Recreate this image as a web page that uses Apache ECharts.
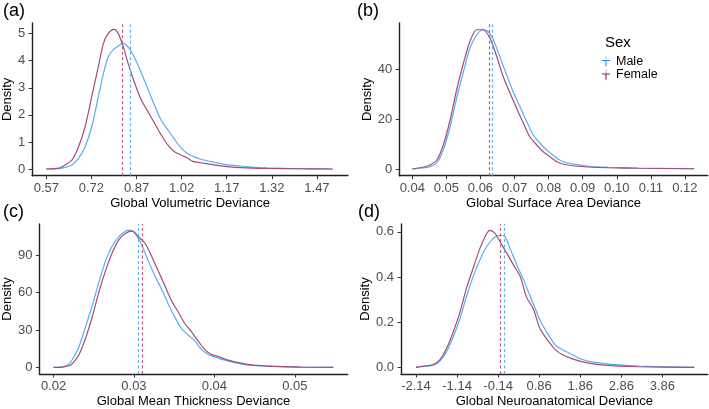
<!DOCTYPE html>
<html>
<head>
<meta charset="utf-8">
<script src="https://cdn.jsdelivr.net/npm/echarts@6/dist/echarts.min.js"></script>
<style>html,body{margin:0;padding:0;background:#fff}#c{width:709px;height:409px}</style>
</head>
<body>
<div id="c"></div>
<script>
// ---------- DATA ----------
// Panel (a) Global Volumetric Deviance
const aFemaleX = [0.57,0.611,0.622,0.655,0.677,0.699,0.721,0.743,0.76,0.776,0.796,0.809,0.826,0.842,0.864,0.886,0.908,0.93,0.952,0.974,0.996,1.018,1.04,1.057,1.084,1.128,1.172,1.216,1.304,1.414,1.522];
const aFemaleY = [0,0.03,0.085,0.33,0.82,1.56,2.67,3.78,4.64,5.01,5.16,5.01,4.52,3.9,3.17,2.55,2.12,1.69,1.26,0.89,0.64,0.52,0.4,0.28,0.23,0.15,0.09,0.05,0.02,0.01,0];
const aMaleX = [0.57,0.611,0.622,0.655,0.677,0.699,0.721,0.743,0.76,0.776,0.792,0.809,0.823,0.836,0.853,0.87,0.886,0.908,0.93,0.952,0.974,0.996,1.018,1.04,1.062,1.084,1.128,1.172,1.216,1.26,1.304,1.414,1.522];
const aMaleY = [0,0.01,0.03,0.15,0.39,0.82,1.56,2.67,3.53,4.15,4.4,4.54,4.64,4.58,4.33,3.96,3.55,2.95,2.35,1.8,1.45,1.1,0.78,0.56,0.45,0.36,0.25,0.15,0.11,0.06,0.04,0.01,0];
const aMeanFemale = 0.823, aMeanMale = 0.85;
const aXTicks = [0.57,0.72,0.87,1.02,1.17,1.32,1.47];
const aYTicks = [0,1,2,3,4,5];

// Panel (b) Global Surface Area Deviance
const bFemaleX = [0.04,0.0437,0.0452,0.0472,0.0491,0.0511,0.053,0.055,0.0569,0.0589,0.0608,0.0628,0.0648,0.0667,0.0687,0.0706,0.0726,0.0745,0.0765,0.0784,0.0804,0.0828,0.0848,0.0877,0.0916,0.0975,0.1063,0.1227];
const bFemaleY = [0,0.9,1.6,3.6,9.6,19.6,31.6,42.3,50.9,55.7,55.7,52.3,44.9,36.9,30.3,24.3,18.3,12.9,9.6,6.9,4.9,2.6,1.8,1.2,0.8,0.5,0.3,0.1];
const bMaleX = [0.04,0.0437,0.0452,0.0472,0.0491,0.0511,0.053,0.055,0.0569,0.0589,0.0608,0.0623,0.0638,0.0657,0.0677,0.0696,0.0716,0.0736,0.0755,0.0775,0.0794,0.0809,0.0828,0.0848,0.0877,0.0916,0.0975,0.1063,0.1227];
const bMaleY = [0,0.5,0.9,2.5,7.6,16.9,28.3,38.9,48.3,53.6,55.7,54.9,51.6,44.9,37.6,30.9,24.9,18.9,13.6,10.3,7.6,6.0,3.9,2.7,1.9,1.1,0.7,0.4,0.1];
const bMeanFemale = 0.0625, bMeanMale = 0.0634;
const bXTicks = [0.04,0.05,0.06,0.07,0.08,0.09,0.10,0.11,0.12];
const bYTicks = [0,20,40];

// Panel (c) Global Mean Thickness Deviance
const cMaleX = [0.02,0.0211,0.0219,0.02234,0.02317,0.02398,0.02481,0.02563,0.02645,0.02727,0.0281,0.02892,0.02953,0.03015,0.03097,0.0318,0.03262,0.03344,0.03426,0.03508,0.0359,0.03673,0.0376,0.0384,0.0392,0.04,0.0408,0.0425,0.0441,0.0466,0.0507,0.0548];
const cMaleY = [0,0.5,2.6,6.3,16.8,32.5,49.6,68,85,96.9,104.7,109.2,110,107.3,98.2,85,73.2,62.7,50.9,40.4,31.2,26,21,14.4,10.5,8.4,6.6,3.9,2.1,1,0.3,0];
const cFemaleX = [0.02,0.0211,0.0219,0.02234,0.02317,0.02398,0.02481,0.02563,0.02645,0.02727,0.0281,0.02892,0.0298,0.03057,0.03138,0.03221,0.03303,0.03385,0.03467,0.0355,0.03631,0.03714,0.038,0.0388,0.0396,0.0404,0.0417,0.0433,0.0449,0.0466,0.0507,0.0548];
const cFemaleY = [0,0.3,1.3,3.1,10.2,23.4,40.4,60.1,77.2,91.6,102.1,107.3,109.2,104.7,99.5,89,77.2,65.4,53.5,44.4,35.2,28.6,21,14.4,10.5,8.9,5.8,3.4,1.8,1,0.3,0];
const cMeanFemale = 0.03106, cMeanMale = 0.03052;
const cXTicks = [0.02,0.03,0.04,0.05];
const cYTicks = [0,30,60,90];

// Panel (d) Global Neuroanatomical Deviance
const dFemaleX = [-2.14,-2.043,-1.719,-1.555,-1.392,-1.23,-1.068,-0.905,-0.744,-0.581,-0.418,-0.338,-0.216,-0.094,0.069,0.23,0.393,0.556,0.717,0.88,1.083,1.245,1.408,1.651,1.895,2.219,2.707,3.275,4.639];
const dFemaleY = [0,0.003,0.013,0.035,0.086,0.158,0.245,0.354,0.441,0.528,0.593,0.607,0.593,0.557,0.506,0.455,0.404,0.31,0.259,0.172,0.116,0.08,0.058,0.039,0.026,0.0145,0.007,0.003,0];
const dMaleX = [-2.14,-2.043,-1.719,-1.555,-1.392,-1.23,-1.068,-0.905,-0.744,-0.581,-0.418,-0.257,-0.094,0.028,0.149,0.312,0.473,0.636,0.799,0.88,1.083,1.245,1.408,1.651,1.895,2.219,2.707,3.275,4.639];
const dMaleY = [0,0.003,0.01,0.028,0.071,0.136,0.216,0.317,0.404,0.477,0.535,0.571,0.585,0.578,0.528,0.455,0.39,0.317,0.245,0.209,0.145,0.101,0.08,0.058,0.036,0.022,0.012,0.006,0];
const dMeanFemale = -0.077, dMeanMale = 0.011;
const dXTicks = [-2.14,-1.14,-0.14,0.86,1.86,2.86,3.86];
const dYTicks = [0.0,0.2,0.4,0.6];

const panelLabels = ['(a)','(b)','(c)','(d)'];
const xTitles = ['Global Volumetric Deviance','Global Surface Area Deviance','Global Mean Thickness Deviance','Global Neuroanatomical Deviance'];
const yTitle = 'Density';
const legendTitle = 'Sex';
const sexes = ['Male','Female'];

// ---------- CHART ----------
const FONT = 'Liberation Sans, Arial, Helvetica, sans-serif';
const maleLine = '#56AEF2', femaleLine = '#A44C78';
const maleDash = '#5DB3F2', femaleDash = '#C2587F';
const maleKey = '#1C8CF0', femaleKey = '#8E1F50';

const zip = (xs, ys) => xs.map((x, i) => [x, ys[i]]);

const grids = [
  {left: 30, top: 23, width: 318, height: 152.7},
  {left: 399.3, top: 23, width: 308.4, height: 152.7},
  {left: 36.7, top: 224, width: 311, height: 152.7},
  {left: 401, top: 224, width: 306.7, height: 152.7}
];
const xRanges = [[0.5228,1.5733],[0.03619,0.12668],[0.018237,0.05658],[-2.505,4.964]];
const yRanges = [[-0.2475,5.393],[-2.68,58.4],[-5.28,114.96],[-0.0291,0.6348]];
const xTickSets = [aXTicks,bXTicks,cXTicks,dXTicks];
const yTickSets = [aYTicks,bYTicks,cYTicks,dYTicks];
const yFmt = [v => String(v), v => String(v), v => String(v), v => v.toFixed(1)];
const yNameGaps = [17, 25, 24, 27];

const axisCommon = {
  axisLine: {show: true, onZero: false, lineStyle: {color: '#222', width: 1.4}},
  axisTick: {show: true, length: 3.5, lineStyle: {color: '#333', width: 1}},
  splitLine: {show: false}
};

const xAxes = grids.map((g, i) => ({
  type: 'value', gridIndex: i, min: xRanges[i][0], max: xRanges[i][1],
  ...axisCommon,
  axisTick: {...axisCommon.axisTick, customValues: xTickSets[i]},
  axisLabel: {customValues: xTickSets[i], formatter: v => v.toFixed(2), color: '#4D4D4D', fontSize: 13, fontFamily: FONT, margin: 6},
  name: xTitles[i], nameLocation: 'middle', nameGap: 21,
  nameTextStyle: {color: '#000', fontSize: 13, fontFamily: FONT}
}));
const yAxes = grids.map((g, i) => ({
  type: 'value', gridIndex: i, min: yRanges[i][0], max: yRanges[i][1],
  ...axisCommon,
  axisTick: {...axisCommon.axisTick, customValues: yTickSets[i]},
  axisLabel: {customValues: yTickSets[i], formatter: yFmt[i], color: '#4D4D4D', fontSize: 13, fontFamily: FONT, margin: 7},
  name: yTitle, nameLocation: 'middle', nameGap: yNameGaps[i], nameRotate: 90,
  nameTextStyle: {color: '#000', fontSize: 13, fontFamily: FONT}
}));

const panels = [
  [zip(aMaleX,aMaleY), zip(aFemaleX,aFemaleY), aMeanMale, aMeanFemale],
  [zip(bMaleX,bMaleY), zip(bFemaleX,bFemaleY), bMeanMale, bMeanFemale],
  [zip(cMaleX,cMaleY), zip(cFemaleX,cFemaleY), cMeanMale, cMeanFemale],
  [zip(dMaleX,dMaleY), zip(dFemaleX,dFemaleY), dMeanMale, dMeanFemale]
];

const series = [];
panels.forEach((p, i) => {
  const mk = (name, data, mean, lc, dc, kc) => ({
    type: 'line', name, xAxisIndex: i, yAxisIndex: i, data,
    showSymbol: false, symbol: 'none', smooth: 0.3, silent: true,
    itemStyle: {color: kc},
    lineStyle: {color: lc, width: 1.2},
    markLine: {
      silent: true, symbol: ['none','none'], label: {show: false}, precision: 8,
      lineStyle: {color: dc, type: [3,2.5], width: 1.2},
      data: [{xAxis: mean}]
    }
  });
  series.push(mk('Male', p[0], p[2], maleLine, maleDash, maleKey));
  series.push(mk('Female', p[1], p[3], femaleLine, femaleDash, femaleKey));
});

const labelPos = [[3,2],[357,2],[3,203],[358,203]];
const graphic = panelLabels.map((t, i) => ({
  type: 'text', left: labelPos[i][0], top: labelPos[i][1],
  style: {text: t, fontSize: 18, fontFamily: FONT, fill: '#000'}
}));
graphic.push({type: 'text', left: 605, top: 35, style: {text: legendTitle, fontSize: 15, fontFamily: FONT, fill: '#000'}});

const keyIcon = 'path://M4.5,0 L5.5,0 L5.5,1.2 L4.5,1.2 Z M4.5,2.2 L5.5,2.2 L5.5,3.2 L4.5,3.2 Z M0,4 L10,4 L10,5.4 L5.7,5.4 L5.7,12 L4.3,12 L4.3,5.4 L0,5.4 Z';

const option = {
  animation: false,
  backgroundColor: '#fff',
  grid: grids,
  xAxis: xAxes,
  yAxis: yAxes,
  series,
  graphic,
  legend: {
    orient: 'vertical', left: 602, top: 55, padding: 0,
    itemWidth: 8, itemHeight: 10, itemGap: 0.5,
    selectedMode: false,
    textStyle: {fontSize: 12.5, fontFamily: FONT, color: '#000', lineHeight: 10, padding: [0,0,0,1]},
    data: [
      {name: 'Male', icon: keyIcon, itemStyle: {color: maleKey}},
      {name: 'Female', icon: keyIcon, itemStyle: {color: femaleKey}}
    ]
  }
};

const chart = echarts.init(document.getElementById('c'), null, {renderer: 'canvas'});
chart.setOption(option);
</script>
</body>
</html>
